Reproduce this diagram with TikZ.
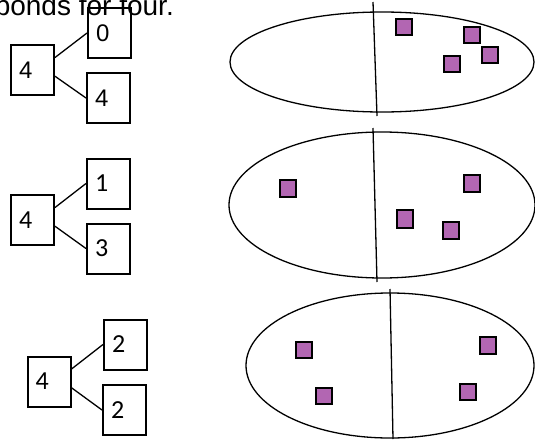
\documentclass[tikz,border=0pt]{standalone}
\usepackage{fontspec}
\setmainfont{Liberation Sans}
\newfontfamily\calib{Carlito}
\usetikzlibrary{calc}
\definecolor{sqfill}{RGB}{178,102,178}
\begin{document}
\begin{tikzpicture}[x=1pt,y=-1pt,
  numbox/.style={draw,line width=2pt,minimum width=43pt,minimum height=50pt,
    text width=27pt,inner xsep=8pt,inner ysep=0pt,align=left},
  armfont/.style={font=\fontsize{24}{24}\selectfont},
  calfont/.style={font=\calib\fontsize{26}{26}\selectfont},
  bond/.style={line width=1.3pt},
  oval/.style={line width=1.3pt},
  divider/.style={line width=1.3pt},
  counter/.style={draw,line width=2.2pt,fill=sqfill}]
\useasboundingbox (0,0) rectangle (535,439);
\clip (0,0) rectangle (535,439);

% title (cut off at top)
\node[anchor=base east,inner sep=0pt,font=\fontsize{28}{28}\selectfont] (title) at (174,15) {bonds for four.};

% group 1
\node[numbox,armfont] (p1) at (32.5,70) {4};
\node[numbox,armfont] (a1) at (109.5,33) {0};
\node[numbox,armfont] (b1) at (108.5,98) {4};
\draw[bond] ($(p1.north east)!0.26!(p1.south east)$) -- (a1.west);
\draw[bond] ($(p1.north east)!0.62!(p1.south east)$) -- (b1.west);

% group 2
\node[numbox,calfont] (p2) at (32.5,220) {4};
\node[numbox,calfont] (a2) at (108.5,183.5) {1};
\node[numbox,calfont] (b2) at (108.5,248.5) {3};
\draw[bond] ($(p2.north east)!0.26!(p2.south east)$) -- (a2.west);
\draw[bond] ($(p2.north east)!0.62!(p2.south east)$) -- (b2.west);

% group 3
\node[numbox,calfont] (p3) at (49,381.5) {4};
\node[numbox,calfont] (a3) at (125.5,344.5) {2};
\node[numbox,calfont] (b3) at (124.5,410) {2};
\draw[bond] ($(p3.north east)!0.26!(p3.south east)$) -- (a3.west);
\draw[bond] ($(p3.north east)!0.62!(p3.south east)$) -- (b3.west);

% ellipse 1
\draw[oval] (382,62) ellipse [x radius=152, y radius=50];
\draw[divider] (373,2) -- (377,116);
\draw[counter] (396,19) rectangle (412,35);
\draw[counter] (464,27) rectangle (480,43);
\draw[counter] (482,47) rectangle (498,63);
\draw[counter] (444,56) rectangle (460,72);

% ellipse 2
\draw[oval] (382,205) ellipse [x radius=153, y radius=73];
\draw[divider] (373,128) -- (377,282);
\draw[counter] (280,180) rectangle (296,197);
\draw[counter] (464,175) rectangle (480,192);
\draw[counter] (397,210) rectangle (413,228);
\draw[counter] (443,222) rectangle (459,239);

% ellipse 3
\draw[oval] (390,365.5) ellipse [x radius=144, y radius=72.5];
\draw[divider] (390,289) -- (393,439);
\draw[counter] (296,342) rectangle (312,358);
\draw[counter] (316,388) rectangle (332,404);
\draw[counter] (480,337) rectangle (496,354);
\draw[counter] (460,384) rectangle (476,400);
\end{tikzpicture}
\end{document}
